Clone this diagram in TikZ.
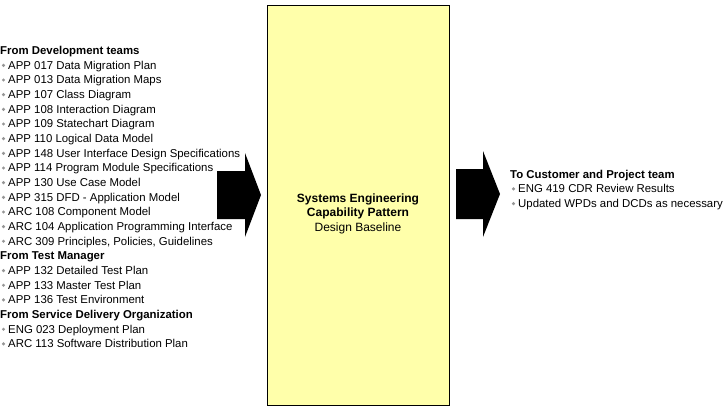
\documentclass[tikz,border=0pt]{standalone}
\usepackage{fontspec}
\setmainfont{Liberation Sans}
\definecolor{boxyellow}{RGB}{255,255,170}
\definecolor{bulgray}{RGB}{150,150,150}
\begin{document}
\begin{tikzpicture}[x=1pt,y=-1pt,
  txt/.style={anchor=base west, inner sep=0pt, font=\fontsize{11.4}{13}\selectfont},
  hdr/.style={anchor=base west, inner sep=0pt, font=\fontsize{11.4}{13}\selectfont\bfseries},
  ctitle/.style={anchor=base, inner sep=0pt, font=\fontsize{12}{14}\selectfont\bfseries},
  csub/.style={anchor=base, inner sep=0pt, font=\fontsize{12}{14}\selectfont},
  bdot/.style={fill=bulgray},
  blockarrow/.style={fill=black}]
\useasboundingbox (0,0) rectangle (727,409);
% central box
\node[draw=black, fill=boxyellow, line width=0.8pt, minimum width=182pt, minimum height=400pt,
      anchor=north west, inner sep=0pt] (core) at (267,5) {};
\node[ctitle] (ct1) at (358,202) {Systems Engineering};
\node[ctitle] (ct2) at (358,216.5) {Capability Pattern};
\node[csub] (ct3) at (358,231.5) {Design Baseline};
% block arrows
\fill[blockarrow] (217,171) -- (245,171) -- (245,153) -- (261,195) -- (245,237) -- (245,219) -- (217,219) -- cycle;
\fill[blockarrow] (456,169) -- (483,169) -- (483,151) -- (500,194) -- (483,237) -- (483,219) -- (456,219) -- cycle;
% left inputs
\foreach \i/\kind/\t in {
  0/h/From Development teams,
  1/b/APP 017 Data Migration Plan,
  2/b/APP 013 Data Migration Maps,
  3/b/APP 107 Class Diagram,
  4/b/APP 108 Interaction Diagram,
  5/b/APP 109 Statechart Diagram,
  6/b/APP 110 Logical Data Model,
  7/b/APP 148 User Interface Design Specifications,
  8/b/APP 114 Program Module Specifications,
  9/b/APP 130 Use Case Model,
  10/b/APP 315 DFD - Application Model,
  11/b/ARC 108 Component Model,
  12/b/ARC 104 Application Programming Interface,
  13/b/{ARC 309 Principles, Policies, Guidelines},
  14/h/From Test Manager,
  15/b/APP 132 Detailed Test Plan,
  16/b/APP 133 Master Test Plan,
  17/b/APP 136 Test Environment,
  18/h/From Service Delivery Organization,
  19/b/ENG 023 Deployment Plan,
  20/b/ARC 113 Software Distribution Plan}{
  \pgfmathsetmacro{\yy}{54.5+14.66*\i}
  \if\kind h
    \node[hdr] (l\i) at (0,\yy) {\t};
  \else
    \node[txt] (l\i) at (8,\yy) {\t};
    \fill[bdot] ([xshift=-4.5pt,yshift=3.8pt]l\i.base west) circle (1.7pt);
  \fi
}
% right outputs
\node[hdr] (r0) at (510,178) {To Customer and Project team};
\node[txt] (r1) at (518,192.7) {ENG 419 CDR Review Results};
\node[txt] (r2) at (518,207.4) {Updated WPDs and DCDs as necessary};
\foreach \j in {1,2}{
  \fill[bdot] ([xshift=-4.5pt,yshift=3.8pt]r\j.base west) circle (1.7pt);
}
\end{tikzpicture}
\end{document}
